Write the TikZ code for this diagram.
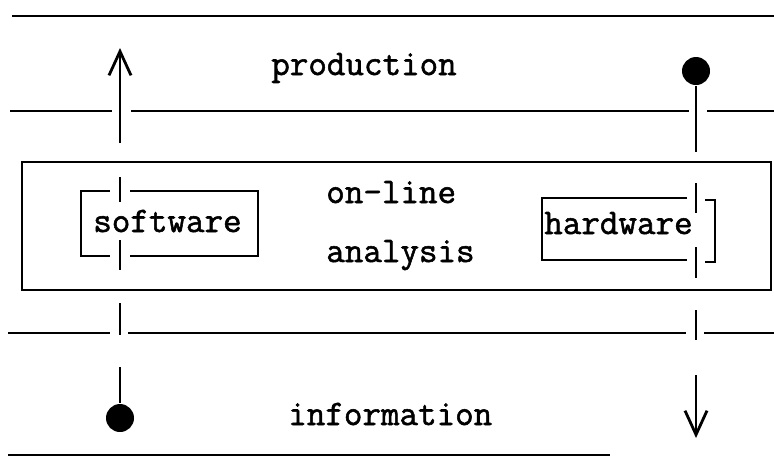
\documentclass[tikz,border=0pt]{standalone}
\usepackage{fontspec}
\usepackage{tikz}
\usetikzlibrary{arrows.meta, positioning}
\newfontfamily\diagfont[FakeBold=1.5]{Latin Modern Mono}
\tikzstyle{lbl}=[inner sep=0pt, anchor=base west, font=\fontsize{18}{20}\selectfont\diagfont]
\tikzstyle{blob}=[circle, fill=black, inner sep=0pt, minimum size=14pt]
\tikzstyle{lvl}=[line width=1.3pt]
\tikzset{>={Straight Barb[length=12pt, width=11pt, line width=1.4pt]}}

\begin{document}
\begin{tikzpicture}[x=0.5pt, y=-0.5pt, lvl]
\useasboundingbox (0,0) rectangle (774,463);
% the level lines
\draw (12,16) -- (774,16);
\draw (10,111) -- (112,111) (131,111) -- (689,111) (707,111) -- (774,111);
\draw (8,333) -- (110,333) (128,333) -- (686,333) (704,333) -- (774,333);
\draw (8,455) -- (610,455);
% the analysis box
\draw (22,162) rectangle (771,290);
% the software box, cut by the left line
\draw (110,191) -- (81,191) -- (81,256) -- (110,256);
\draw (130,191) -- (258,191) -- (258,256) -- (130,256);
\draw (120,177) -- (120,202) (120,240) -- (120,270) (120,303) -- (120,335);
% the hardware box, cut by the right line
\draw (687,198) -- (542,198) -- (542,260) -- (687,260);
\draw (705,200) -- (715,200) -- (715,262) -- (705,262);
\draw (696,183) -- (696,213) (696,247) -- (696,278) (696,310) -- (696,340);
% the labels
\node[lbl] (prod) at (270,75) {production};
\node[lbl] (online) at (325,203) {on-line};
\node[lbl] (anal) at (325,262) {analysis};
\node[lbl] (soft) at (92,232) {software};
\node[lbl] (hard) at (543,234) {hardware};
\node[lbl] (info) at (287,425) {information};
% the sources and the arrows
\node[blob] (srcP) at (696,71) {};
\node[blob] (srcI) at (120,418) {};
\coordinate (endP) at (696,152);
\coordinate (endI) at (120,367);
\coordinate (upFrom) at (120,143);
\coordinate (upTo) at (120,48);
\coordinate (downFrom) at (696,375);
\coordinate (downTo) at (696,438);
\draw (srcP) -- (endP);
\draw (srcI) -- (endI);
\draw[->] (upFrom) -- (upTo);
\draw[->] (downFrom) -- (downTo);
\end{tikzpicture}
\end{document}
